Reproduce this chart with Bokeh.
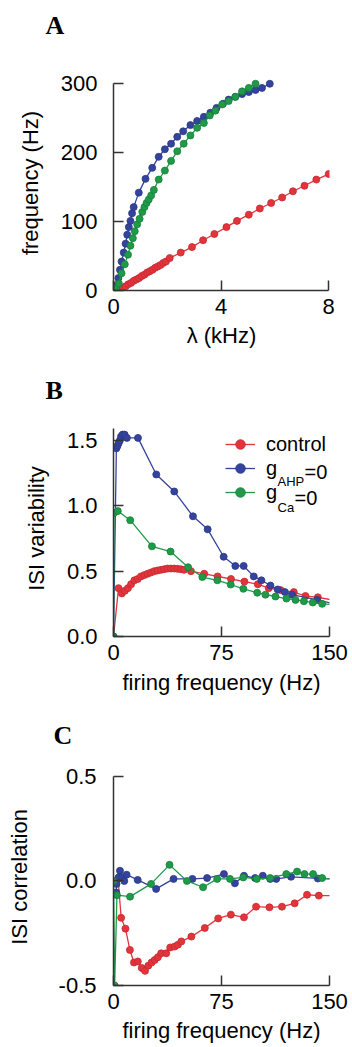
from bokeh.plotting import figure
from bokeh.layouts import column
from bokeh.models import Legend, LegendItem, Label, FixedTicker, NumeralTickFormatter
from bokeh.embed import file_html
from bokeh.resources import INLINE

# ---------------- data ----------------
# Panel A: frequency (Hz) vs lambda (kHz)
a_ctrl_lam = [0.25, 0.35, 0.45, 0.55, 0.65, 0.75, 0.85, 0.95, 1.05, 1.15, 1.25, 1.35, 1.45, 1.55, 1.65, 1.75, 1.85, 1.95, 2.09,
              2.5, 2.92, 3.33, 3.75, 4.2, 4.59, 5.03, 5.44, 5.86, 6.27, 6.67, 7.1, 7.54, 8.0]
a_ctrl_f = [1, 4, 6, 9, 11, 14, 16, 18, 21, 23, 26, 28, 30, 33, 35, 37, 40, 42, 47,
            55, 63, 73, 82, 92, 101, 110, 119, 127, 135, 144, 152, 161, 169]
a_ahp_lam = [0.05, 0.12, 0.18, 0.24, 0.30, 0.38, 0.45, 0.51, 0.57, 0.63, 0.69, 0.75, 0.94, 1.19, 1.44, 1.68, 1.91, 2.14,
             2.37, 2.59, 2.86, 3.11, 3.36, 3.60, 3.83, 4.07, 4.28, 4.53, 4.78, 5.03, 5.28, 5.52, 5.81]
a_ahp_f = [0, 8, 18, 30, 42, 55, 68, 81, 92, 101, 112, 121, 142, 162, 178, 194, 205, 213,
           223, 231, 240, 246, 252, 258, 265, 271, 277, 281, 285, 288, 291, 294, 300]
a_ca_lam = [0.0, 0.1, 0.2, 0.3, 0.42, 0.54, 0.63, 0.72, 0.79, 0.88, 0.97, 1.07, 1.15, 1.23, 1.31, 1.40, 1.50, 1.68, 1.91,
            2.14, 2.37, 2.61, 2.86, 3.11, 3.36, 3.58, 3.79, 4.04, 4.28, 4.53, 4.78, 5.03, 5.28]
a_ca_f = [0, 3, 10, 25, 38, 52, 65, 76, 86, 96, 104, 114, 121, 127, 132, 138, 146, 161, 174,
          188, 202, 213, 225, 236, 243, 254, 261, 270, 275, 281, 289, 294, 300]

# Panel B: ISI variability vs firing frequency (Hz)
b_ctrl_x = [0, 3.5, 5.8, 7.9, 10, 12.2, 14.5, 16.8, 19.1, 21.4, 23.7, 26, 28.3, 30.6, 32.9, 35.2, 37.5, 39.8, 42.1, 44.4,
            46.7, 49, 53.8, 63, 72.3, 81.6, 90.9, 100.2, 107.8, 116, 125.2, 133.3, 141.9, 157]
b_ctrl_y = [0, 0.37, 0.33, 0.35, 0.37, 0.40, 0.43, 0.44, 0.46, 0.47, 0.48, 0.49, 0.50, 0.505, 0.51, 0.515, 0.52, 0.52,
            0.52, 0.518, 0.515, 0.51, 0.50, 0.48, 0.46, 0.44, 0.42, 0.40, 0.37, 0.355, 0.34, 0.31, 0.30, 0.27]
b_ahp_x = [0, 2.0, 2.8, 3.6, 4.4, 5.2, 6.3, 7.7, 9.3, 17, 29.7, 42.2, 55.2, 65.4, 76.5, 84.6, 90.4, 97.4, 102.7, 109,
           114, 119, 124, 141.4, 157]
b_ahp_y = [0, 1.44, 1.46, 1.48, 1.50, 1.53, 1.545, 1.545, 1.52, 1.52, 1.24, 1.11, 0.92, 0.82, 0.61, 0.54, 0.54, 0.46,
           0.43, 0.39, 0.36, 0.34, 0.32, 0.28, 0.24]
b_ca_x = [0, 0.3, 3.0, 11.6, 26.7, 39.6, 51.8, 61.7, 72.1, 81.4, 90.2, 99.8, 105.5, 112.5, 120.1, 126.4, 132.2, 138.4,
          144.9, 157]
b_ca_y = [0, 0.945, 0.96, 0.89, 0.69, 0.65, 0.53, 0.455, 0.43, 0.398, 0.365, 0.335, 0.32, 0.306, 0.29, 0.28, 0.27, 0.26,
          0.25, 0.24]

# Panel C: ISI correlation vs firing frequency (Hz)
c_ctrl_x = [3.2, 5.3, 8.3, 11.4, 14.2, 16.9, 19.6, 21.9, 24.2, 26.4, 28.6, 30.8, 33.1, 36.6, 39.4, 42.4, 44.7, 47.1,
            54.1, 63.4, 72.7, 81.5, 90.6, 99, 108.3, 117, 125.8, 134.4, 142.6, 157]
c_ctrl_y = [0.01, -0.176, -0.228, -0.33, -0.39, -0.385, -0.416, -0.43, -0.405, -0.39, -0.378, -0.365, -0.346, -0.346,
            -0.318, -0.314, -0.305, -0.289, -0.266, -0.225, -0.179, -0.161, -0.174, -0.123, -0.126, -0.123, -0.107,
            -0.066, -0.07, -0.07]
c_ahp_x = [1.9, 2.1, 3.5, 4.5, 5.9, 7.5, 9.1, 16.8, 29.6, 41.7, 54.8, 65, 76.7, 84.3, 90.6, 98.3, 103.7, 108.8, 113,
           123.3, 141.9, 157]
c_ahp_y = [-0.055, -0.014, 0.017, 0.049, 0.017, 0.0, 0.03, 0.005, -0.038, 0.01, 0.01, 0.014, 0.033, -0.011, 0.025,
           0.014, 0.025, 0.01, 0.01, 0.02, 0.012, 0.008]
c_ca_x = [0, 0.8, 2.4, 11.5, 26.1, 38.9, 51, 62.2, 72, 80.9, 90.1, 99.5, 108.8, 120, 127.5, 132.6, 138.6, 144.9, 157]
c_ca_y = [0.0, -0.5, -0.068, -0.075, -0.014, 0.077, 0.0, -0.03, 0.01, 0.01, 0.017, 0.01, 0.014, 0.033, 0.045, 0.033,
          0.033, 0.014, 0.005]

a_xticks = [0, 4, 8]
a_yticks = [0, 100, 200, 300]
bc_xticks = [0, 75, 150]
b_yticks = [0, 0.5, 1.0, 1.5]
c_yticks = [-0.5, 0, 0.5]
legend_labels = ["control", "g", "g"]
legend_subs = ["", "AHP", "Ca"]

# ---------------- style ----------------
RED, BLUE, GREEN = "#e3343c", "#34449e", "#1f9a48"
RED_E, BLUE_E, GREEN_E = "#c42a31", "#2a3784", "#17803a"
AX = "#333333"
FONT = "Liberation Sans"
FS = "22px"


def make_fig(height, xr, yr, top, bottom, letter, letter_offset, letter_standoff):
    p = figure(width=352, height=height, x_range=xr, y_range=yr, output_backend="svg",
               toolbar_location=None, min_border_left=113, min_border_right=23,
               min_border_top=top, min_border_bottom=bottom)
    p.grid.visible = False
    p.outline_line_color = None
    p.background_fill_color = "white"
    p.border_fill_color = "white"
    p.title.text = letter
    p.title.align = "left"
    p.title.offset = letter_offset
    p.title.standoff = letter_standoff
    p.title.text_font = "Liberation Serif"
    p.title.text_font_style = "bold"
    p.title.text_font_size = "26px"
    p.title.text_color = "black"
    return p


def style_axes(p, xticks, yticks, xb, yb, xlabel, ylabel, yfmt,
               x_major_so, x_label_so, y_major_so, y_label_so):
    xa, ya = p.xaxis[0], p.yaxis[0]
    for ax in (xa, ya):
        ax.axis_line_color = AX
        ax.axis_line_width = 1.5
        ax.major_tick_line_color = AX
        ax.major_tick_line_width = 1.5
        ax.major_tick_in = 10
        ax.major_tick_out = 0
        ax.minor_tick_line_color = None
        ax.major_label_text_font = FONT
        ax.major_label_text_font_size = FS
        ax.major_label_text_color = "black"
        ax.axis_label_text_font = FONT
        ax.axis_label_text_font_size = FS
        ax.axis_label_text_font_style = "normal"
        ax.axis_label_text_color = "black"
    xa.ticker = FixedTicker(ticks=xticks)
    ya.ticker = FixedTicker(ticks=yticks)
    xa.formatter = NumeralTickFormatter(format="0")
    ya.formatter = NumeralTickFormatter(format=yfmt)
    xa.bounds = xb
    ya.bounds = yb
    xa.axis_label = xlabel
    ya.axis_label = ylabel
    xa.major_label_standoff = x_major_so
    xa.axis_label_standoff = x_label_so
    ya.major_label_standoff = y_major_so
    ya.axis_label_standoff = y_label_so


def series(p, x, y, color, edge):
    l = p.line(x, y, line_color=color, line_width=1.3)
    s = p.scatter(x, y, size=7, fill_color=color, line_color=edge, line_width=0.8)
    return l, s


# ---------------- panel A ----------------
pA = make_fig(356, (0, 8.03), (0, 312.0), 75, 66, "A\n ", -68, 14)
series(pA, a_ctrl_lam, a_ctrl_f, RED, RED_E)
series(pA, a_ahp_lam, a_ahp_f, BLUE, BLUE_E)
series(pA, a_ca_lam, a_ca_f, GREEN, GREEN_E)
style_axes(pA, a_xticks, a_yticks, (0, 8), (0, 300), "λ (kHz)", "frequency (Hz)", "0",
           8, 6, 16, 15)

# ---------------- panel B ----------------
pB = make_fig(344, (0, 150), (0, 1.653), 64, 64, "B", -68, 31)
rB = [series(pB, b_ctrl_x, b_ctrl_y, RED, RED_E),
      series(pB, b_ahp_x, b_ahp_y, BLUE, BLUE_E),
      series(pB, b_ca_x, b_ca_y, GREEN, GREEN_E)]
style_axes(pB, bc_xticks, b_yticks, (0, 150), (0, 1.59), "firing frequency (Hz)", "ISI variability", "0.0",
           8, 7, 16, 15)

legend = Legend(items=[LegendItem(label=lab, renderers=list(r)) for lab, r in zip(legend_labels, rB)],
                location=(112, 132), orientation="vertical", border_line_color=None,
                background_fill_alpha=0, padding=0, margin=0, spacing=0, glyph_width=30,
                glyph_height=24, label_height=24, label_standoff=11,
                label_text_font=FONT, label_text_font_size="20px", label_text_color="black")
pB.add_layout(legend)

# subscripts of the legend labels ("g" + subscript + "=0")
for i, sub in enumerate(legend_subs):
    if not sub:
        continue
    base = 165 - 26 * (i - 1)
    pB.add_layout(Label(x=164, y=base - 10, x_units="screen", y_units="screen", text=sub,
                        text_font=FONT, text_font_size="13px", text_baseline="alphabetic",
                        text_align="left", text_color="black"))
    sub_w = 27 if sub == "AHP" else 17
    pB.add_layout(Label(x=164 + sub_w, y=base, x_units="screen", y_units="screen", text="=0",
                        text_font=FONT, text_font_size="20px", text_baseline="alphabetic",
                        text_align="left", text_color="black"))

# ---------------- panel C ----------------
pC = make_fig(347, (0, 150), (-0.5, 0.538), 68, 62, "C", -60, 37)
series(pC, c_ctrl_x, c_ctrl_y, RED, RED_E)
series(pC, c_ahp_x, c_ahp_y, BLUE, BLUE_E)
series(pC, c_ca_x, c_ca_y, GREEN, GREEN_E)
style_axes(pC, bc_xticks, c_yticks, (0, 150), (-0.5, 0.5), "firing frequency (Hz)", "ISI correlation", "0.0",
           8, 6, 17, 24)

layout = column(pA, pB, pC, spacing=0)
open("out.html", "w").write(file_html(layout, INLINE))
